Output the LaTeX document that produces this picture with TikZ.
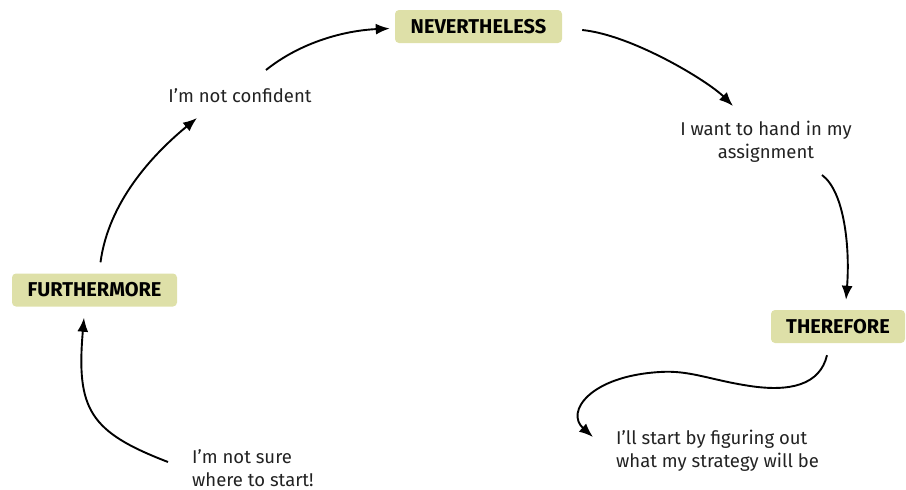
\documentclass[tikz,border=0pt]{standalone}
\usepackage{fontspec}
\setmainfont{Fira Sans}
\usepackage{tikz}
\usetikzlibrary{arrows.meta}

\definecolor{boxfill}{HTML}{DEE0A8}
\definecolor{inkgray}{HTML}{222222}

\tikzset{
    stagebox/.style={fill=boxfill, rounded corners=4pt, minimum height=33pt,
        inner sep=0pt, font=\fontsize{20}{22}\selectfont\bfseries, text=black},
    thought/.style={font=\fontsize{18.5}{23.5}\selectfont, text=inkgray, inner sep=2pt},
    flow/.style={line width=1.9pt, -{Latex[length=14pt,width=11pt]}}
}

\begin{document}
\begin{tikzpicture}[x=1pt,y=-1pt]

    \useasboundingbox (0,0) rectangle (906,490);

    \node[stagebox, minimum width=167pt] (neve) at (478.5,26.5) {NEVERTHELESS};
    \node[stagebox, minimum width=165pt] (furth) at (94.5,290) {FURTHERMORE};
    \node[stagebox, minimum width=134pt] (there) at (838,326.5) {THEREFORE};

    \node[thought] (conf) at (240,96) {I’m not confident};
    \node[thought, align=center] (hand) at (766,142) {I want to hand in my\\assignment};
    \node[thought, align=left, anchor=west] (strat) at (614,451) {I’ll start by figuring out\\what my strategy will be};
    \node[thought, align=left, anchor=west] (unsure) at (190,468) {I’m not sure\\where to start!};

    \draw[flow] ([shift={(26,-26)}]conf.center) .. controls +(35,-28) and +(-45,2) .. ([shift={(-5,2)}]neve.west);
    \draw[flow] ([shift={(20,3.5)}]neve.east) .. controls +(50,5) and +(-25,-25) .. ([shift={(-33,-36)}]hand.center);
    \draw[flow] ([shift={(56,33)}]hand.center) .. controls +(23,17) and +(4,-50) .. ([shift={(8,-10)}]there.north);
    \draw[flow] ([shift={(-11,12)}]there.south) .. controls (820,385) and (790,392) .. (750,386)
        .. controls (710,380) and (690,370) .. (660,372)
        .. controls (590,376) and (565,412) .. ([shift={(-21,-14)}]strat.west);
    \draw[flow] ([shift={(-22,-6)}]unsure.west) .. controls +(-78,-30) and +(-8,92) .. ([shift={(-10.5,11)}]furth.south);
    \draw[flow] ([shift={(6,-11)}]furth.north) .. controls +(8,-60) and +(-45,37) .. ([shift={(-43,22)}]conf.center);

\end{tikzpicture}
\end{document}
